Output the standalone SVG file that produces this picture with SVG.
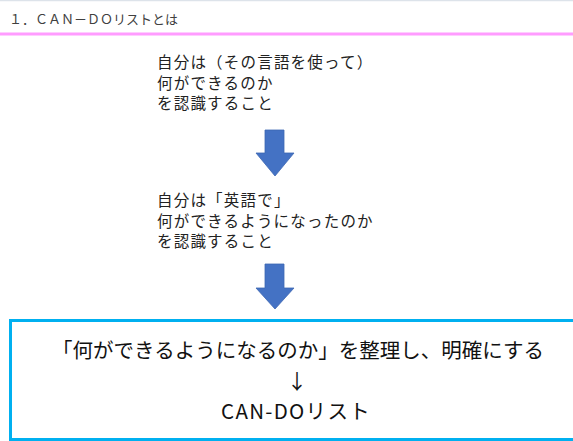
<svg xmlns="http://www.w3.org/2000/svg" width="573" height="441" viewBox="0 0 573 441">
  <style>
    .title { font-family: "Noto Sans CJK JP", "Liberation Sans", sans-serif; font-size: 13px; fill: #404040; }
    .body { font-family: "Noto Sans CJK JP", "Liberation Sans", sans-serif; font-size: 15.5px; letter-spacing: 1.2px; fill: #222222; }
    .main { font-family: "Noto Sans CJK JP", "Liberation Sans", sans-serif; font-size: 20.5px; fill: #111111; text-anchor: middle; }
    .arrow { fill: #4472c4; stroke: #3d67b3; stroke-width: 0.8; }
  </style>
  <rect x="0" y="0" width="573" height="441" fill="#ffffff"/>
  <g id="header">
    <line x1="0" y1="0.5" x2="573" y2="0.5" stroke="#dde3ea" stroke-width="1.5"/>
    <text class="title" x="9" y="24">１．ＣＡＮ－ＤＯリストとは</text>
    <line x1="0" y1="34" x2="573" y2="34" stroke="#ff9cff" stroke-width="3"/>
  </g>
  <g id="node1">
    <text class="body" x="157" y="68">自分は（その言語を使って）</text>
    <text class="body" x="157" y="88.5">何ができるのか</text>
    <text class="body" x="157" y="109">を認識すること</text>
  </g>
  <g id="node2">
    <text class="body" x="157" y="206">自分は「英語で」</text>
    <text class="body" x="157" y="226.5">何ができるようになったのか</text>
    <text class="body" x="157" y="247">を認識すること</text>
  </g>
  <g id="node3">
    <rect x="10.5" y="320.5" width="580" height="119" fill="none" stroke="#00b0f0" stroke-width="3"/>
    <text class="main" x="298" y="358">「何ができるようになるのか」を整理し、明確にする</text>
    <text class="main" x="297" y="389">↓</text>
    <text class="main" x="296" y="419" letter-spacing="1.3">CAN-DOリスト</text>
  </g>
  <g id="connectors">
    <polygon class="arrow" points="265,130 284,130 284,153 294,153 275,176 256,153 265,153"/>
    <polygon class="arrow" points="265,264 284,264 284,288 294,288 275,309 256,288 265,288"/>
  </g>
</svg>
